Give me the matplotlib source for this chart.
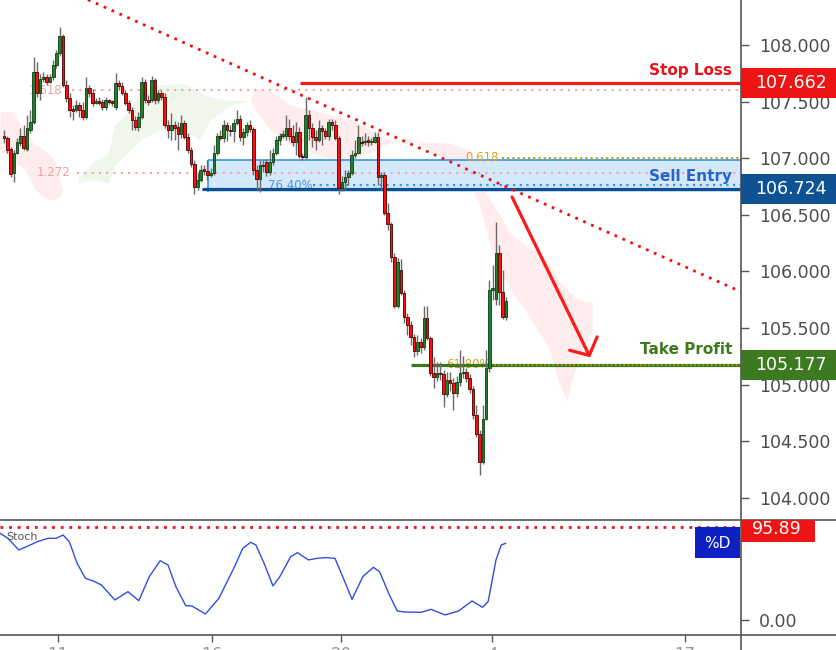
import numpy as np
import matplotlib
matplotlib.use('Agg')
import matplotlib.pyplot as plt
from matplotlib.patches import Rectangle
from matplotlib.lines import Line2D
from matplotlib import transforms
from matplotlib.transforms import Bbox, TransformedBbox

# ---- candle data (price) ----
opens = [107.20, 107.18, 107.08, 106.87, 107.05, 107.13, 107.20, 107.08, 107.25, 107.32,
         107.76, 107.58, 107.70, 107.72, 107.67, 107.72, 107.82, 107.93, 108.08, 107.65,
         107.53, 107.43, 107.43, 107.47, 107.43, 107.36, 107.62, 107.58, 107.49, 107.50,
         107.50, 107.45, 107.51, 107.50, 107.45, 107.66, 107.64, 107.58, 107.49, 107.43,
         107.34, 107.28, 107.36, 107.67, 107.51, 107.51, 107.69, 107.51, 107.58, 107.54,
         107.29, 107.25, 107.29, 107.28, 107.21, 107.31, 107.19, 107.07, 106.95, 106.75,
         106.81, 106.90, 106.89, 106.85, 106.87, 107.05, 107.20, 107.18, 107.29, 107.25,
         107.24, 107.31, 107.35, 107.19, 107.23, 107.29, 107.26, 106.90, 106.82, 106.94,
         106.97, 106.88, 106.97, 107.05, 107.16, 107.20, 107.20, 107.27, 107.20, 107.14,
         107.23, 107.02, 107.01, 107.38, 107.27, 107.19, 107.16, 107.27, 107.24, 107.20,
         107.32, 107.29, 107.18, 106.74, 106.79, 106.83, 106.87, 107.03, 107.05, 107.14,
         107.14, 107.16, 107.14, 107.14, 107.19, 106.83, 106.85, 106.52, 106.42, 106.13,
         105.69, 106.01, 105.81, 105.60, 105.53, 105.42, 105.30, 105.38, 105.33, 105.59,
         105.41, 105.10, 105.07,
         105.10, 105.09, 104.92, 105.04, 105.01, 104.93, 105.02, 105.10,
         105.11, 105.06, 104.96, 104.73, 104.56, 104.32, 104.70, 105.15, 105.84, 105.76,
         106.16, 105.82, 105.60]
closes = [107.18, 107.07, 106.86, 107.05, 107.14, 107.20, 107.09, 107.27, 107.32, 107.76,
          107.58, 107.70, 107.72, 107.67, 107.72, 107.82, 107.93, 108.08, 107.65, 107.53,
          107.43, 107.42, 107.47, 107.43, 107.36, 107.62, 107.58, 107.49, 107.50, 107.49,
          107.45, 107.51, 107.50, 107.49, 107.66, 107.64, 107.58, 107.49, 107.43, 107.34,
          107.28, 107.36, 107.67, 107.51, 107.50, 107.69, 107.51, 107.58, 107.54, 107.29,
          107.25, 107.29, 107.27, 107.21, 107.31, 107.19, 107.07, 106.95, 106.75, 106.81,
          106.90, 106.89, 106.85, 106.87, 107.05, 107.20, 107.18, 107.29, 107.25, 107.24,
          107.31, 107.35, 107.19, 107.23, 107.29, 107.26, 106.90, 106.82, 106.94, 106.93,
          106.88, 106.97, 107.05, 107.16, 107.20, 107.21, 107.27, 107.20, 107.14, 107.23,
          107.02, 107.01, 107.38, 107.27, 107.19, 107.16, 107.27, 107.24, 107.20, 107.32,
          107.29, 107.18, 106.74, 106.79, 106.83, 106.87, 107.03, 107.05, 107.19, 107.13,
          107.15, 107.14, 107.15, 107.19, 106.83, 106.85, 106.52, 106.42, 106.13, 105.69,
          106.08, 105.81, 105.60, 105.53, 105.42, 105.30, 105.38, 105.33, 105.59, 105.41,
          105.10, 105.07, 105.10,
          105.09, 104.92, 105.04, 105.01, 104.93, 105.02, 105.10, 105.11,
          105.06, 104.96, 104.73, 104.56, 104.32, 104.70, 105.15, 105.84, 105.85, 106.16,
          105.82, 105.60, 105.74]
highs = [107.25, 107.20, 107.10, 107.07, 107.18, 107.27, 107.29, 107.38, 107.43, 107.89,
         107.85, 107.74, 107.76, 107.74, 107.74, 107.87, 107.96, 108.16, 108.10, 107.69,
         107.58, 107.47, 107.51, 107.50, 107.50, 107.72, 107.65, 107.61, 107.53, 107.54,
         107.52, 107.54, 107.52, 107.51, 107.75, 107.69, 107.67, 107.60, 107.51, 107.45,
         107.37, 107.41, 107.72, 107.70, 107.56, 107.73, 107.71, 107.60, 107.60, 107.58,
         107.34, 107.40, 107.33, 107.32, 107.38, 107.34, 107.22, 107.10, 106.98, 106.88,
         106.94, 106.94, 106.98, 106.91, 107.12, 107.22, 107.25, 107.34, 107.32, 107.29,
         107.35, 107.43, 107.38, 107.27, 107.32, 107.34, 107.28, 106.94, 106.98, 106.98,
         106.99, 107.07, 107.09, 107.20, 107.22, 107.25, 107.38, 107.35, 107.29, 107.32,
         107.28, 107.05, 107.54, 107.43, 107.31, 107.25, 107.34, 107.29, 107.27, 107.35,
         107.35, 107.34, 107.20, 106.84, 106.90, 106.90, 107.07, 107.16, 107.29, 107.20,
         107.22, 107.20, 107.18, 107.23, 107.23, 106.88, 106.88, 106.60, 106.44, 106.16,
         106.12, 106.11, 105.84, 105.63, 105.56, 105.45, 105.44, 105.41, 105.69, 105.69,
         105.43, 105.24, 105.20,
         105.20, 105.13, 105.11, 105.11, 105.06, 105.08, 105.31, 105.25,
         105.15, 105.09, 104.99, 104.82, 104.60, 104.82, 105.31, 105.92, 106.06, 106.44,
         106.23, 106.01, 105.77]
lows = [107.13, 107.05, 106.83, 106.79, 107.04, 107.11, 107.07, 107.06, 107.22, 107.30,
        107.54, 107.51, 107.67, 107.65, 107.66, 107.69, 107.80, 107.90, 107.63, 107.50,
        107.36, 107.34, 107.41, 107.36, 107.34, 107.35, 107.54, 107.46, 107.48, 107.47,
        107.43, 107.43, 107.48, 107.46, 107.43, 107.60, 107.56, 107.47, 107.40, 107.25,
        107.25, 107.24, 107.35, 107.49, 107.47, 107.50, 107.48, 107.49, 107.51, 107.27,
        107.18, 107.16, 107.16, 107.07, 107.18, 107.17, 107.05, 106.92, 106.68, 106.72,
        106.79, 106.85, 106.81, 106.83, 106.85, 107.03, 107.16, 107.14, 107.15, 107.20,
        107.14, 107.29, 107.15, 107.12, 107.20, 107.23, 106.85, 106.72, 106.70, 106.88,
        106.84, 106.85, 106.94, 107.03, 107.12, 107.18, 107.16, 107.16, 107.11, 107.03,
        107.00, 106.98, 106.99, 107.16, 107.10, 107.07, 107.14, 107.12, 107.17, 107.16,
        107.25, 107.16, 106.68, 106.71, 106.72, 106.76, 106.85, 107.00, 107.04, 107.11,
        107.12, 107.11, 107.12, 107.13, 106.76, 106.72, 106.50, 106.37, 106.08, 105.68,
        105.68, 105.79, 105.54, 105.44, 105.35, 105.24, 105.26, 105.28, 105.31, 105.39,
        105.08, 104.97, 105.03,
        105.04, 104.80, 104.89, 104.94, 104.78, 104.89, 104.99, 105.06,
        105.02, 104.93, 104.70, 104.54, 104.20, 104.30, 104.69, 105.11, 105.75, 105.70,
        105.70, 105.58, 105.57]

# ---- ichimoku cloud (index, upper, lower) ----
pink1_x = [-1.2, 2.4, 6.4, 9.5, 12.5, 15.5, 17.7]
pink1_top = [107.41, 107.41, 107.25, 107.12, 107.07, 106.98, 106.72]
pink1_bot = [107.07, 106.98, 106.90, 106.72, 106.65, 106.63, 106.68]
green_x = [22.6, 27.7, 31.7, 33.8, 38.4, 41.5, 47.6, 55.2, 59.8, 62.8, 68.9, 75.0]
green_top = [106.83, 106.98, 107.03, 107.29, 107.43, 107.60, 107.65, 107.66, 107.58, 107.54, 107.51, 107.51]
green_bot = [106.78, 106.81, 106.78, 106.94, 107.07, 107.16, 107.25, 107.25, 107.16, 107.34, 107.47, 107.51]
pink2_x = [75.0, 76.5, 81.1, 87.2, 93.3, 99.4, 105.5, 111.6, 116.2, 119.2]
pink2_top = [107.51, 107.62, 107.60, 107.47, 107.43, 107.38, 107.34, 107.25, 107.18, 107.15]
pink2_bot = [107.51, 107.43, 107.25, 107.12, 107.05, 107.00, 106.98, 107.05, 107.12, 107.15]
green2_x = [119.2, 122.3, 125.3]
green2_top = [107.15, 107.19, 107.15]
green2_bot = [107.15, 107.13, 107.15]
pink3_x = [125.3, 136.0, 142.1, 145.1, 148.2, 151.2, 154.3, 158.8, 163.4, 166.5, 168.9, 171.6, 174.1, 177.1, 179.3]
pink3_top = [107.15, 107.13, 107.07, 106.76, 106.63, 106.50, 106.34, 106.23, 106.16, 106.06, 105.92, 105.84, 105.77, 105.73, 105.73]
pink3_bot = [107.15, 106.98, 106.76, 106.58, 106.23, 106.01, 105.84, 105.66, 105.45, 105.30, 105.04, 104.86, 105.13, 105.35, 105.48]

# ---- stochastic %D ----
stoch_x = [-1.2, 1.2, 4.5, 6.9, 10.2, 13.4, 15.9, 18.0, 19.9, 22.3, 24.8, 27.2, 29.7, 33.8, 37.8,
           41.1, 44.3, 47.6, 50.0, 52.4, 55.4, 57.3, 61.4, 65.5, 70.3, 72.8, 75.2, 76.8, 79.3,
           82.0, 84.1, 87.4, 89.5, 92.8, 95.5, 98.0, 100.9, 103.7, 106.1, 109.4, 112.6, 114.5,
           117.5, 119.9, 122.3, 127.2, 130.2, 134.5, 138.6, 142.7, 145.9, 147.6, 150.0, 151.6, 152.9]
stoch_d = [89.4, 84.2, 72.2, 75.6, 80.8, 84.2, 84.2, 87.6, 80.8, 58.4, 43.0, 40.2, 36.1, 20.6, 29.2,
           19.9, 44.7, 61.1, 56.7, 34.4, 14.8, 14.4, 6.2, 22.3, 55.0, 73.9, 80.1, 77.3, 58.4,
           35.1, 44.7, 65.3, 69.4, 61.9, 63.6, 64.3, 63.6, 41.2, 21.3, 44.7, 54.3, 49.8,
           25.8, 9.3, 8.2, 7.9, 11.0, 5.2, 9.3, 19.6, 13.1, 18.9, 61.9, 77.3, 79.0]
stoch_last = 95.89

# ---- levels ----
stop_loss = 107.662
sell_entry = 106.724
take_profit = 105.177
fib_1618 = 107.60
fib_1272 = 106.87
zone_top = 106.98
zone_bot = 106.70
fib_764 = 106.76
fib_0618 = 107.00
trend_x = [25.6, 224.7]
trend_y = [108.40, 105.82]
arrow_from = (154.9, 106.657)
arrow_to = (178.7, 105.241)

price_ticks = [104.0, 104.5, 105.0, 105.5, 106.0, 106.5, 107.0, 107.5, 108.0]
date_pos = [16.5, 63.4, 102.7, 148.8, 207.6]
date_labels = ['11', '16', '20', '4', '17']

W, H = 837, 650
X0, X1 = -1.22, 224.7
YLO, YHI = 103.804, 108.3975
PER_PX = (YHI - YLO) / 520

fig = plt.figure(figsize=(W / 100, H / 100), dpi=100)
ax = fig.add_axes([0, 130 / H, 741 / W, 520 / H])
ax2 = fig.add_axes([0, 15 / H, 741 / W, 115 / H])

# clouds
pink = '#ffecec'
greenc = '#eff7ed'
for xs, t, b, col in [(pink1_x, pink1_top, pink1_bot, pink), (green_x, green_top, green_bot, greenc),
                      (pink2_x, pink2_top, pink2_bot, pink), (green2_x, green2_top, green2_bot, greenc),
                      (pink3_x, pink3_top, pink3_bot, pink)]:
    ax.fill_between(xs, t, b, color=col, lw=0, zorder=1)

# zone
ax.add_patch(Rectangle((62.2, zone_bot), X1 - 62.2, zone_top - zone_bot,
                       facecolor='#d3e8fb', edgecolor='none', zorder=1.5))
ax.hlines(zone_top, 62.2, X1, color='#3a95e8', lw=1.2, zorder=1.6)
ax.vlines(62.2, zone_bot, zone_top, color='#3a95e8', lw=1.2, zorder=1.6)

# fib dotted lines and labels
ax.hlines(fib_1618, 20.7, X1, color='#f2a5a5', lw=1.5, linestyles=[(0, (1, 2.5))], zorder=2)
ax.hlines(fib_1272, 22.3, X1, color='#f2a5a5', lw=1.5, linestyles=[(0, (1, 2.5))], zorder=2)
ax.text(17.7, fib_1618, '1.618', ha='right', va='center', fontsize=8.5, color='#f0a0a0', zorder=2)
ax.text(20.1, fib_1272, '1.272', ha='right', va='center', fontsize=8.5, color='#f0a0a0', zorder=2)
ax.hlines(fib_764, 94.2, X1, color='#3d8fe0', lw=1.6, linestyles=[(0, (1, 2))], zorder=2)
ax.text(87.2, fib_764, '76.40%', ha='center', va='center', fontsize=8.5, color='#5096dc', zorder=2)
ax.hlines(fib_0618, 151.8, X1, color='#c9a200', lw=1.5, linestyles=[(0, (1, 1.5))], zorder=2)
ax.text(145.7, fib_0618 + 0.005, '0.618', ha='center', va='center', fontsize=8.5, color='#d4a520', zorder=2)

# trade levels
ax.hlines(stop_loss, 90.2, X1, color='#f01818', lw=2.3, zorder=2.5)
ax.hlines(sell_entry, 60.4, X1, color='#0d4f94', lw=2.3, zorder=2.5)
ax.hlines(take_profit, 124.1, X1, color='#3a7a1e', lw=2.3, zorder=2.5)
ax.hlines(take_profit, 148.2, X1, color='#c9a200', lw=1.2, linestyles=[(0, (1, 1.5))], zorder=2.6)
ax.text(141.5, take_profit, '61.80%', ha='center', va='center', fontsize=8.5, color='#d4a520', zorder=2.4)

# candles
for i, (o, h, l, c) in enumerate(zip(opens, highs, lows, closes)):
    up = c > o
    ax.vlines(i, l, h, color='#6a6a6a', lw=1, zorder=3)
    fc = '#23802a' if up else '#ff0d0d'
    ec = '#0e3d12' if up else '#4a0000'
    ax.add_patch(Rectangle((i - 0.4, min(o, c)), 0.8, max(abs(c - o), 0.012),
                           facecolor=fc, edgecolor=ec, lw=0.6, zorder=4))

# trend line and arrow
ax.plot(trend_x, trend_y, color='#ee1111', lw=2.0, linestyle=(0, (1, 2.1)), zorder=6)
ax.annotate('', xy=arrow_to, xytext=arrow_from,
            arrowprops=dict(arrowstyle='->,head_length=0.95,head_width=1.1', color='#ff1a1a',
                            lw=2.3, shrinkA=0, shrinkB=0, mutation_scale=10), zorder=7)

ax.set_xlim(X0, X1)
ax.set_ylim(YLO, YHI)
for s in ax.spines.values():
    s.set_visible(False)
ax.set_xticks([])
ax.yaxis.tick_right()
ax.set_yticks(price_ticks)
ax.set_yticklabels([f'{v:.3f}' for v in price_ticks])
ax.tick_params(axis='y', length=6, width=1, color='#555555', labelcolor='#4d4d4d',
               labelsize=12.5, pad=7)

# stochastic panel
ax2.plot(stoch_x, stoch_d, color='#2f4fe0', lw=1.0)
ax2.axhline(stoch_last, color='#ee1111', lw=2.0, linestyle=(0, (1, 2.1)))
ax2.set_xlim(X0, X1)
ax2.set_ylim(-15.5, 103.1)
for s in ax2.spines.values():
    s.set_visible(False)
ax2.yaxis.tick_right()
ax2.set_yticks([0])
ax2.set_yticklabels(['0.00'])
ax2.tick_params(axis='y', length=6, width=1, color='#555555', labelcolor='#4d4d4d',
                labelsize=12.5, pad=7)
ax2.set_xticks(date_pos)
ax2.set_xticklabels(date_labels)
ax2.tick_params(axis='x', length=5, width=1, color='#555555', labelcolor='#999999',
                labelsize=12, pad=3)

# separators
sep = '#555555'
fig.add_artist(Line2D([741 / W, 741 / W], [0, 1], color=sep, lw=1.2))
fig.add_artist(Line2D([0, 1], [1 - 520 / H, 1 - 520 / H], color=sep, lw=1.2))
fig.add_artist(Line2D([0, 1], [1 - 635 / H, 1 - 635 / H], color=sep, lw=1.2))

# price boxes on the right axis
tr = transforms.blended_transform_factory(fig.transFigure, ax.transData)
for val, txt, col in [(stop_loss, '107.662', '#ee1414'), (sell_entry, '106.724', '#0f5294'),
                      (take_profit, '105.177', '#3b7a20')]:
    fig.add_artist(Rectangle((741 / W, val - 15 * PER_PX), 96 / W, 30 * PER_PX,
                             transform=tr, facecolor=col, edgecolor='none', zorder=5))
    fig.text(755 / W, val, txt, transform=tr, ha='left', va='center', fontsize=12.5,
             color='white', zorder=6)

fig.text(732 / W, 1 - 70 / H, 'Stop Loss', ha='right', va='center', fontsize=11,
         weight='bold', color='#e8141c')
fig.text(732 / W, 1 - 176 / H, 'Sell Entry', ha='right', va='center', fontsize=11,
         weight='bold', color='#2366d1')
fig.text(732 / W, 1 - 350 / H, 'Take Profit', ha='right', va='center', fontsize=11,
         weight='bold', color='#3d7a1e')

# stoch labels
clip = TransformedBbox(Bbox([[0, 0], [1, 1 - 520 / H]]), fig.transFigure)
r = Rectangle((741 / W, 1 - 542 / H), 74 / W, 30 / H, transform=fig.transFigure,
              facecolor='#ee1414', edgecolor='none', zorder=5)
r.set_clip_box(clip)
fig.add_artist(r)
t = fig.text(752 / W, 1 - 529 / H, '95.89', ha='left', va='center', fontsize=12.5,
             color='white', zorder=6)
t.set_clip_box(clip)
t.set_clip_on(True)
fig.add_artist(Rectangle((695 / W, 1 - 558 / H), 45 / W, 31 / H, transform=fig.transFigure,
                         facecolor='#0c20c4', edgecolor='none', zorder=5))
fig.text(717 / W, 1 - 543 / H, '%D', ha='center', va='center', fontsize=11,
         color='white', zorder=6)
fig.text(6 / W, 1 - 537 / H, 'Stoch', ha='left', va='center', fontsize=8, color='#555555')

fig.savefig('out.png', dpi=100)
